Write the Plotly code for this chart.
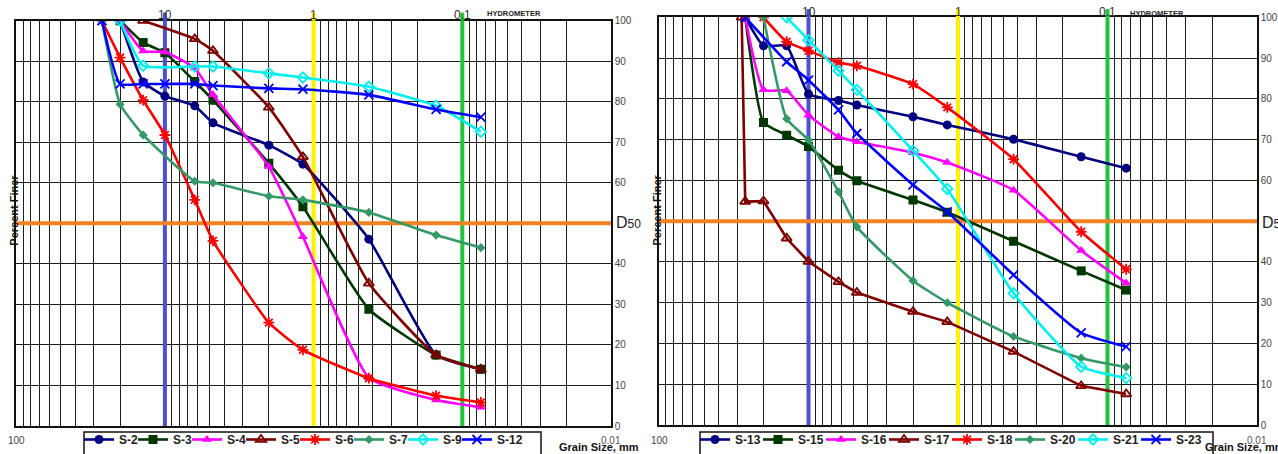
import plotly.graph_objects as go

W, H = 1278, 454

# ---- grain size distribution data (sieve opening in mm, percent finer) ----
s2_mm = [20, 14, 10, 6.3, 4.75, 2, 1.18, 0.425, 0.15, 0.075]
s2_pf = [100, 84.9, 81.4, 79.0, 74.8, 69.3, 64.6, 46.1, 17.5, 14.0]

s3_mm = [20, 14, 10, 6.3, 4.75, 2, 1.18, 0.425, 0.15, 0.075]
s3_pf = [100, 94.6, 92.1, 85.0, 80.4, 64.8, 54.1, 28.8, 17.5, 14.0]

s4_mm = [20, 14, 10, 6.3, 4.75, 2, 1.18, 0.425, 0.15, 0.075]
s4_pf = [100, 92.5, 92.3, 88.3, 81.7, 64.0, 46.7, 11.9, 6.4, 4.6]

s5_mm = [14, 6.3, 4.75, 2, 1.18, 0.425, 0.15, 0.075]
s5_pf = [100, 95.5, 92.6, 78.6, 66.4, 35.2, 17.5, 14.0]

s6_mm = [26.5, 20, 14, 10, 6.3, 4.75, 2, 1.18, 0.425, 0.15, 0.075]
s6_pf = [100, 90.9, 80.4, 71.8, 55.8, 45.7, 25.5, 18.8, 11.8, 7.5, 5.8]

s7_mm = [26.5, 20, 14, 6.3, 4.75, 2, 1.18, 0.425, 0.15, 0.075]
s7_pf = [100, 79.4, 71.8, 60.4, 60.0, 56.7, 55.8, 52.7, 47.1, 44.0]

s9_mm = [20, 14, 6.3, 4.75, 2, 1.18, 0.425, 0.15, 0.075]
s9_pf = [100, 88.9, 88.7, 88.7, 87.0, 86.0, 83.7, 79.0, 72.6]

s12_mm = [26.5, 20, 14, 10, 6.3, 4.75, 2, 1.18, 0.425, 0.15, 0.075]
s12_pf = [100, 84.4, 84.4, 84.4, 84.4, 84.0, 83.3, 83.1, 81.7, 78.1, 76.2]

s13_mm = [26.5, 20, 14, 10, 6.3, 4.75, 2, 1.18, 0.425, 0.15, 0.075]
s13_pf = [100, 93.0, 93.0, 81.2, 79.6, 78.5, 75.6, 73.6, 70.1, 65.8, 63.0]

s15_mm = [26.5, 20, 14, 10, 6.3, 4.75, 2, 1.18, 0.425, 0.15, 0.075]
s15_pf = [100, 74.2, 71.1, 68.3, 62.5, 59.9, 55.2, 52.2, 45.1, 37.8, 33.1]

s16_mm = [26.5, 20, 14, 10, 6.3, 4.75, 2, 1.18, 0.425, 0.15, 0.075]
s16_pf = [100, 82.2, 82.0, 76.0, 70.7, 69.5, 66.8, 64.4, 57.6, 42.8, 34.8]

s17_mm = [28, 26.5, 20, 14, 10, 6.3, 4.75, 2, 1.18, 0.425, 0.15, 0.075]
s17_pf = [100, 54.8, 54.9, 45.8, 40.1, 35.1, 32.5, 27.8, 25.3, 18.0, 9.6, 7.6]

s18_mm = [20, 14, 10, 6.3, 4.75, 2, 1.18, 0.425, 0.15, 0.075]
s18_pf = [100, 94.0, 91.8, 88.9, 88.1, 83.6, 77.9, 65.2, 47.4, 38.2]

s20_mm = [20, 14, 10, 6.3, 4.75, 2, 1.18, 0.425, 0.15, 0.075]
s20_pf = [100, 75.1, 69.9, 57.2, 48.6, 35.4, 30.0, 21.7, 16.4, 14.2]

s21_mm = [14, 10, 6.3, 4.75, 2, 1.18, 0.425, 0.15, 0.075]
s21_pf = [100, 94.4, 86.9, 82.2, 67.3, 57.9, 32.3, 14.3, 11.5]

s23_mm = [26.5, 14, 10, 6.3, 4.75, 2, 1.18, 0.425, 0.15, 0.075]
s23_pf = [100, 89.1, 84.6, 77.3, 71.5, 58.9, 52.3, 36.8, 22.6, 19.2]

# reference lines: sieve boundaries (mm) and the D50 level (%)
boundary_mm = [10, 1, 0.1]
boundary_colors = ["#4a50d2", "#fff200", "#22c43a"]
d50_level = 50
axis_span_mm = [100, 0.01]

x_labels_top = [(10, "10"), (1, "1"), (0.1, "0.1")]
y_tickvals = [0, 10, 20, 30, 40, 60, 70, 80, 90, 100]

NAVY, DKGREEN, MAGENTA, DKRED = "#000080", "#003800", "#ff00ff", "#800000"
RED, SEAGREEN, CYAN, BLUE = "#ff0000", "#339966", "#00f0f0", "#0000ff"

left_series = [
    ("S-2", s2_mm, s2_pf, NAVY, "circle", 9),
    ("S-3", s3_mm, s3_pf, DKGREEN, "square", 9),
    ("S-4", s4_mm, s4_pf, MAGENTA, "triangle-up", 9),
    ("S-5", s5_mm, s5_pf, DKRED, "triangle-up-open", 9),
    ("S-6", s6_mm, s6_pf, RED, "asterisk-open", 9),
    ("S-7", s7_mm, s7_pf, SEAGREEN, "diamond", 7),
    ("S-9", s9_mm, s9_pf, CYAN, "diamond-open", 8),
    ("S-12", s12_mm, s12_pf, BLUE, "x-thin-open", 9),
]
right_series = [
    ("S-13", s13_mm, s13_pf, NAVY, "circle", 9),
    ("S-15", s15_mm, s15_pf, DKGREEN, "square", 9),
    ("S-16", s16_mm, s16_pf, MAGENTA, "triangle-up", 9),
    ("S-17", s17_mm, s17_pf, DKRED, "triangle-up-open", 9),
    ("S-18", s18_mm, s18_pf, RED, "asterisk-open", 9),
    ("S-20", s20_mm, s20_pf, SEAGREEN, "diamond", 7),
    ("S-21", s21_mm, s21_pf, CYAN, "diamond-open", 8),
    ("S-23", s23_mm, s23_pf, BLUE, "x-thin-open", 9),
]

FONT = "Liberation Sans, Arial, sans-serif"


def px_x(p):
    return p / W


def px_y(p):
    return 1 - p / H


# panel geometry (pixels)
panels = [
    dict(xa="xaxis", ya="yaxis", xr="x", yr="y", lg="legend", series=left_series,
         x0=16.2, x1=611.0, top=20.7, bot=426.0,
         leg_x=79, box=(84, 541), entry=9, last_entry=24),
    dict(xa="xaxis2", ya="yaxis2", xr="x2", yr="y2", lg="legend2", series=right_series,
         x0=659.0, x1=1257.0, top=17.3, bot=425.0,
         leg_x=695, box=(700, 1213), entry=18, last_entry=27),
]

fig = go.Figure()

for p in panels:
    # sieve boundary verticals and D50 level, under the curves
    for v, c in zip(boundary_mm, boundary_colors):
        fig.add_trace(go.Scatter(x=[v, v], y=[0, 100], mode="lines", xaxis=p["xr"], yaxis=p["yr"],
                                 line=dict(color=c, width=4), showlegend=False, hoverinfo="skip"))
    fig.add_trace(go.Scatter(x=axis_span_mm, y=[d50_level, d50_level], mode="lines",
                             xaxis=p["xr"], yaxis=p["yr"], line=dict(color="#f58220", width=4),
                             showlegend=False, hoverinfo="skip"))

    n = len(p["series"])
    for i, (name, mm, pf, col, sym, sz) in enumerate(p["series"]):
        open_sym = sym.endswith("open")
        shape = "linear" if name == "S-17" else "spline"
        fig.add_trace(go.Scatter(
            x=mm, y=pf, name=name, mode="lines+markers",
            xaxis=p["xr"], yaxis=p["yr"], legend=p["lg"],
            legendwidth=p["last_entry"] if i == n - 1 else p["entry"],
            line=dict(color=col, width=2.6, shape=shape, smoothing=0.45),
            marker=dict(symbol=sym, size=sz, color=col,
                        line=dict(color=col, width=1.8 if open_sym else 0)),
        ))

axis_common = dict(showline=True, linecolor="#111", linewidth=1.5, mirror=True,
                   showgrid=True, gridcolor="#1e1e1e", gridwidth=1.1, zeroline=False,
                   ticks="", fixedrange=True)

for p in panels:
    fig.layout[p["xa"]] = dict(
        axis_common, type="log", range=[2, -2],
        domain=[px_x(p["x0"]), px_x(p["x1"])], anchor=p["yr"],
        showticklabels=False, dtick=1,
        minor=dict(dtick="D1", showgrid=True, gridcolor="#1e1e1e", gridwidth=1.1),
    )
    fig.layout[p["ya"]] = dict(
        axis_common, range=[0, 100], tickvals=y_tickvals,
        domain=[px_y(p["bot"]), px_y(p["top"])], anchor=p["xr"], side="right",
        tickfont=dict(family=FONT, size=10, color="#444"),
    )

    # short stubs of the boundary lines above the frame
    for v, c in zip(boundary_mm, boundary_colors):
        fig.add_shape(type="line", xref=p["xr"], yref=p["yr"] + " domain",
                      x0=v, x1=v, y0=1.0, y1=1.02, layer="above",
                      line=dict(color=c, width=4))

    # legend frame (runs off the bottom edge)
    fig.add_shape(type="rect", xref="paper", yref="paper",
                  x0=px_x(p["box"][0]), x1=px_x(p["box"][1]), y0=px_y(470), y1=px_y(432),
                  layer="above", fillcolor="white", line=dict(color="#111", width=1.5))

    # decade labels along the top
    for v, t in x_labels_top:
        fig.add_annotation(xref=p["xr"], yref="paper", x={10: 1, 1: 0, 0.1: -1}[v],
                           y=px_y(p["top"] - 5.5), text=t, showarrow=False,
                           xanchor="center", yanchor="middle",
                           font=dict(family=FONT, size=12, color="#333"))

    # texts around each panel
    fig.add_annotation(xref="paper", yref="paper", x=px_x(p["x1"] + 3), y=px_y(223),
                       text="D<span style='font-size:12px'>50</span>", showarrow=False,
                       xanchor="left", yanchor="middle",
                       font=dict(family=FONT, size=16, color="#222"))
    fig.add_annotation(xref="paper", yref="paper", x=px_x(p["x0"] - 2.5), y=px_y(210),
                       text="<b>Percent Finer</b>", textangle=-90, showarrow=False,
                       xanchor="center", yanchor="middle",
                       font=dict(family=FONT, size=11, color="#111"))
    fig.add_annotation(xref="paper", yref="paper", x=px_x(p["x0"] + 498), y=px_y(13),
                       text="<b>HYDROMETER</b>", showarrow=False,
                       xanchor="center", yanchor="middle",
                       font=dict(family=FONT, size=7.5, color="#222"))
    fig.add_annotation(xref=p["xr"], yref="paper", x=2, y=px_y(440),
                       text="100", showarrow=False, xanchor="center", yanchor="middle",
                       font=dict(family=FONT, size=10, color="#444"))
    fig.add_annotation(xref="paper", yref="paper", x=px_x(p["x1"] - 12), y=px_y(447),
                       text="<b>Grain Size, mm</b>", showarrow=False,
                       xanchor="center", yanchor="middle",
                       font=dict(family=FONT, size=11, color="#111"))
    fig.add_annotation(xref=p["xr"], yref="paper", x=-2, y=px_y(440),
                       text="0.01", showarrow=False, xanchor="center", yanchor="middle",
                       font=dict(family=FONT, size=10, color="#555"))

legend_common = dict(orientation="h", xanchor="left", yanchor="bottom", y=0,
                     bgcolor="rgba(0,0,0,0)", borderwidth=0,
                     font=dict(family=FONT, size=12, color="#222", weight="bold"),
                     itemwidth=30, tracegroupgap=0, itemclick=False, itemdoubleclick=False)

fig.update_layout(
    width=W, height=H,
    margin=dict(l=0, r=0, t=0, b=0, autoexpand=False),
    paper_bgcolor="white", plot_bgcolor="white",
    showlegend=True,
    legend=dict(legend_common, x=px_x(panels[0]["leg_x"])),
    legend2=dict(legend_common, x=px_x(panels[1]["leg_x"])),
)

fig.write_html("out.html")
